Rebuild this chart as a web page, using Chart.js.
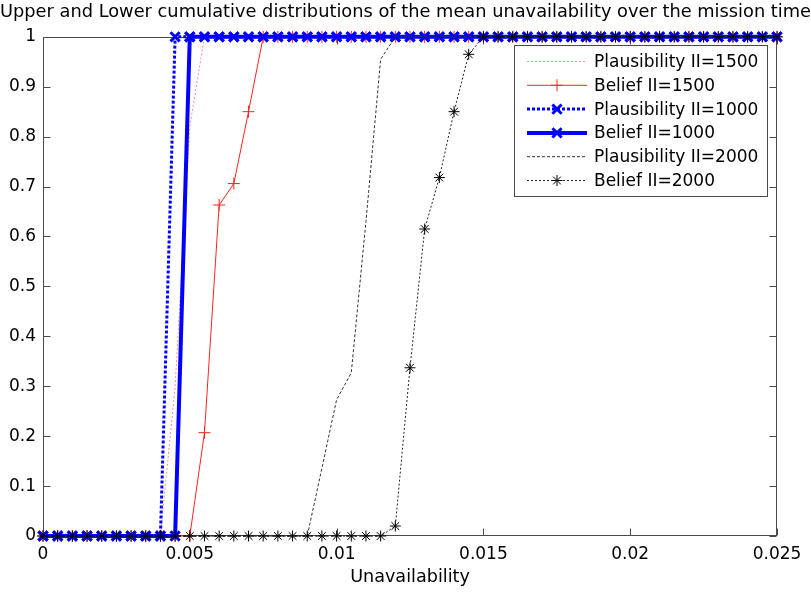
<!DOCTYPE html>
<html>
<head>
<meta charset="utf-8">
<script src="https://cdn.jsdelivr.net/npm/chart.js@4.4.1/dist/chart.umd.min.js"></script>
<style>
html,body{margin:0;padding:0;background:#fff;}
#wrap{width:811px;height:596px;position:relative;}
</style>
</head>
<body>
<div id="wrap"><canvas id="c" width="811" height="596"></canvas></div>
<script>
// ---- data ----
const unavailability = [
  0, 0.0005, 0.001, 0.0015, 0.002, 0.0025, 0.003, 0.0035, 0.004, 0.0045,
  0.005, 0.0055, 0.006, 0.0065, 0.007, 0.0075, 0.008, 0.0085, 0.009, 0.0095,
  0.01, 0.0105, 0.011, 0.0115, 0.012, 0.0125, 0.013, 0.0135, 0.014, 0.0145,
  0.015, 0.0155, 0.016, 0.0165, 0.017, 0.0175, 0.018, 0.0185, 0.019, 0.0195,
  0.02, 0.0205, 0.021, 0.0215, 0.022, 0.0225, 0.023, 0.0235, 0.024, 0.0245,
  0.025
];
const plausibility1500 = [
  0, 0, 0, 0, 0, 0, 0, 0, 0, 0.3,
  0.82, 1, 1, 1, 1, 1, 1, 1, 1, 1,
  1, 1, 1, 1, 1, 1, 1, 1, 1, 1,
  1, 1, 1, 1, 1, 1, 1, 1, 1, 1,
  1, 1, 1, 1, 1, 1, 1, 1, 1, 1,
  1
];
const belief1500 = [
  0, 0, 0, 0, 0, 0, 0, 0, 0, 0,
  0, 0.207, 0.663, 0.706, 0.85, 1, 1, 1, 1, 1,
  1, 1, 1, 1, 1, 1, 1, 1, 1, 1,
  1, 1, 1, 1, 1, 1, 1, 1, 1, 1,
  1, 1, 1, 1, 1, 1, 1, 1, 1, 1,
  1
];
const plausibility1000 = [
  0, 0, 0, 0, 0, 0, 0, 0, 0, 1,
  1, 1, 1, 1, 1, 1, 1, 1, 1, 1,
  1, 1, 1, 1, 1, 1, 1, 1, 1, 1,
  1, 1, 1, 1, 1, 1, 1, 1, 1, 1,
  1, 1, 1, 1, 1, 1, 1, 1, 1, 1,
  1
];
const belief1000 = [
  0, 0, 0, 0, 0, 0, 0, 0, 0, 0,
  1, 1, 1, 1, 1, 1, 1, 1, 1, 1,
  1, 1, 1, 1, 1, 1, 1, 1, 1, 1,
  1, 1, 1, 1, 1, 1, 1, 1, 1, 1,
  1, 1, 1, 1, 1, 1, 1, 1, 1, 1,
  1
];
const plausibility2000 = [
  0, 0, 0, 0, 0, 0, 0, 0, 0, 0,
  0, 0, 0, 0, 0, 0, 0, 0, 0, 0.136,
  0.273, 0.327, 0.63, 0.955, 1, 1, 1, 1, 1, 1,
  1, 1, 1, 1, 1, 1, 1, 1, 1, 1,
  1, 1, 1, 1, 1, 1, 1, 1, 1, 1,
  1
];
const belief2000 = [
  0, 0, 0, 0, 0, 0, 0, 0, 0, 0,
  0, 0, 0, 0, 0, 0, 0, 0, 0, 0,
  0, 0, 0, 0, 0.02, 0.337, 0.615, 0.718, 0.85, 0.965,
  1, 1, 1, 1, 1, 1, 1, 1, 1, 1,
  1, 1, 1, 1, 1, 1, 1, 1, 1, 1,
  1
];
const seriesNames = ['Plausibility II=1500', 'Belief II=1500', 'Plausibility II=1000', 'Belief II=1000', 'Plausibility II=2000', 'Belief II=2000'];
const xTickLabels = ['0', '0.005', '0.01', '0.015', '0.02', '0.025'];
const yTickLabels = ['0', '0.1', '0.2', '0.3', '0.4', '0.5', '0.6', '0.7', '0.8', '0.9', '1'];
const chartTitle = 'Upper and Lower cumulative distributions of the mean unavailability over the mission time';
const xAxisTitle = 'Unavailability';

// ---- build ----
const FONT = "'DejaVu Sans', 'Liberation Sans', Arial, sans-serif";
const pts = arr => unavailability.map((x, i) => ({x: x, y: arr[i]}));

const datasets = [
  {label: seriesNames[0], data: pts(plausibility1500), borderColor: '#ff8c8c', borderWidth: 1, borderDash: [2, 2],
   pointRadius: 0, order: 6},
  {label: seriesNames[1], data: pts(belief1500), borderColor: '#ff2222', borderWidth: 1,
   pointStyle: 'cross', pointRadius: 6, pointBorderWidth: 1, pointBorderColor: '#ff2222', order: 5},
  {label: seriesNames[2], data: pts(plausibility1000), borderColor: '#0000ff', borderWidth: 3, borderDash: [3, 2],
   pointStyle: 'crossRot', pointRadius: 6.5, pointBorderWidth: 3, pointBorderColor: '#0000ff', order: 4},
  {label: seriesNames[3], data: pts(belief1000), borderColor: '#0000ff', borderWidth: 4,
   pointStyle: 'crossRot', pointRadius: 6.5, pointBorderWidth: 3, pointBorderColor: '#0000ff', order: 3},
  {label: seriesNames[4], data: pts(plausibility2000), borderColor: '#333333', borderWidth: 1, borderDash: [3, 2],
   pointRadius: 0, order: 2},
  {label: seriesNames[5], data: pts(belief2000), borderColor: '#222222', borderWidth: 1, borderDash: [2, 2],
   pointStyle: 'star', pointRadius: 5.5, pointBorderWidth: 1, pointBorderColor: '#000000', order: 1}
];
datasets.forEach(d => { d.fill = false; d.tension = 0; d.clip = false; d.pointHoverRadius = d.pointRadius; d.pointBackgroundColor = d.pointBorderColor || d.borderColor; });

function drawMarker(ctx, style, x, y, r) {
  ctx.beginPath();
  if (style === 'cross' || style === 'star') {
    ctx.moveTo(x - r, y); ctx.lineTo(x + r, y);
    ctx.moveTo(x, y - r); ctx.lineTo(x, y + r);
  }
  if (style === 'crossRot' || style === 'star') {
    const o = r * Math.SQRT1_2;
    ctx.moveTo(x - o, y - o); ctx.lineTo(x + o, y + o);
    ctx.moveTo(x - o, y + o); ctx.lineTo(x + o, y - o);
  }
  ctx.stroke();
}

const framePlugin = {
  id: 'frame',
  beforeDatasetsDraw(chart) {
    const {ctx, chartArea: a, scales} = chart;
    ctx.save();
    ctx.strokeStyle = '#4a4a4a';
    ctx.lineWidth = 1;
    const L = Math.round(a.left) + 0.5, R = Math.round(a.right) - 0.5, T = Math.round(a.top) + 0.5, B = Math.round(a.bottom) - 0.5;
    ctx.strokeRect(L, T, R - L, B - T);
    const tl = 7;
    ctx.beginPath();
    scales.x.ticks.forEach(t => {
      const px = Math.round(scales.x.getPixelForValue(t.value)) + 0.5;
      ctx.moveTo(px, B); ctx.lineTo(px, B - tl);
      ctx.moveTo(px, T); ctx.lineTo(px, T + tl);
    });
    scales.y.ticks.forEach(t => {
      const py = Math.round(scales.y.getPixelForValue(t.value)) + 0.5;
      ctx.moveTo(L, py); ctx.lineTo(L + tl, py);
      ctx.moveTo(R, py); ctx.lineTo(R - tl, py);
    });
    ctx.stroke();
    ctx.restore();
  }
};

const legendPlugin = {
  id: 'matlabLegend',
  afterDraw(chart) {
    const ctx = chart.ctx;
    const bx = 514.5, by = 45.5, bw = 253, bh = 151;
    ctx.save();
    ctx.fillStyle = '#ffffff';
    ctx.fillRect(bx, by, bw, bh);
    ctx.strokeStyle = '#4a4a4a';
    ctx.lineWidth = 1;
    ctx.setLineDash([]);
    ctx.strokeRect(bx, by, bw, bh);
    ctx.font = '17px ' + FONT;
    ctx.textBaseline = 'middle';
    ctx.textAlign = 'left';
    chart.data.datasets.forEach((d, i) => {
      const y = 61.5 + i * 23.8;
      ctx.strokeStyle = d.borderColor;
      ctx.lineWidth = d.borderWidth;
      ctx.setLineDash(d.borderDash || []);
      ctx.beginPath(); ctx.moveTo(527, y); ctx.lineTo(587, y); ctx.stroke();
      ctx.setLineDash([]);
      if (d.pointRadius > 0) {
        ctx.strokeStyle = d.pointBorderColor;
        ctx.lineWidth = d.pointBorderWidth;
        drawMarker(ctx, d.pointStyle, 557, y, d.pointRadius);
      }
      ctx.fillStyle = '#000000';
      ctx.fillText(d.label, 594, y + 1);
    });
    ctx.restore();
  }
};

new Chart(document.getElementById('c'), {
  type: 'line',
  data: {datasets: datasets},
  options: {
    responsive: false,
    animation: false,
    events: [],
    layout: {padding: {left: 0, right: 0, top: 0, bottom: 0}},
    plugins: {
      legend: {display: false},
      tooltip: {enabled: false},
      title: {display: true, text: chartTitle, color: '#000', font: {family: FONT, size: 18, weight: 'normal'},
              padding: {top: 2, bottom: 13.2}}
    },
    scales: {
      x: {
        type: 'linear', min: 0, max: 0.025,
        afterFit: s => { s.height = 60; },
        grid: {display: false, drawTicks: false},
        border: {display: false},
        ticks: {stepSize: 0.005, color: '#000', padding: 8, maxRotation: 0, autoSkip: false,
                font: {family: FONT, size: 17},
                callback: (v, i) => xTickLabels[i]},
        title: {display: true, text: xAxisTitle, color: '#000', font: {family: FONT, size: 17.6}, padding: {top: 0, bottom: 8}}
      },
      y: {
        type: 'linear', min: 0, max: 1,
        afterFit: s => { s.width = 43; },
        grid: {display: false, drawTicks: false},
        border: {display: false},
        ticks: {stepSize: 0.1, color: '#000', padding: 7, autoSkip: false,
                font: {family: FONT, size: 17},
                callback: (v, i) => yTickLabels[i]}
      },
      yRight: {
        type: 'linear', position: 'right', min: 0, max: 1,
        afterFit: s => { s.width = 34; },
        grid: {display: false, drawTicks: false},
        border: {display: false},
        ticks: {display: false}
      }
    }
  },
  plugins: [framePlugin, legendPlugin]
});
</script>
</body>
</html>
